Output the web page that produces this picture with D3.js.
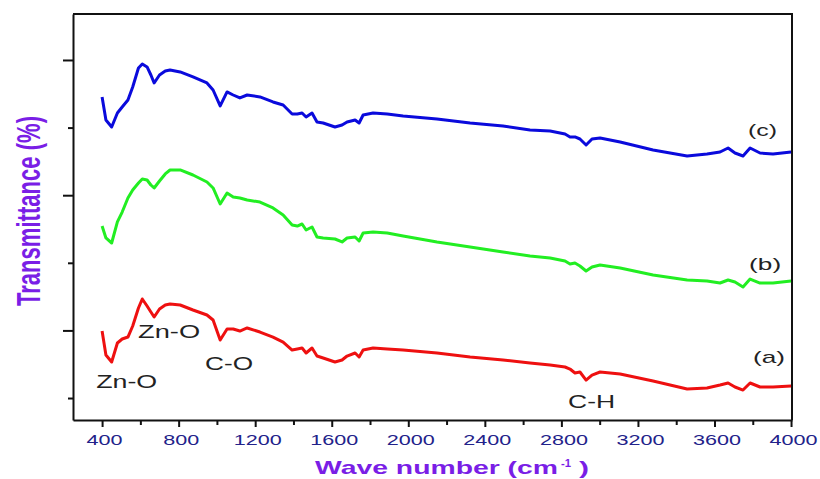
<!DOCTYPE html>
<html>
<head>
<meta charset="utf-8">
<script src="https://cdnjs.cloudflare.com/ajax/libs/d3/7.8.5/d3.min.js"></script>
<style>
  body { margin: 0; background: #fff; }
  svg text { font-family: "Liberation Sans", Arial, sans-serif; }
</style>
</head>
<body>
<div id="ftir"></div>
<script>
// wave numbers (cm-1)
var waveNumber = [400, 420, 450, 480, 505, 535, 560, 590, 610, 635,
  655, 672, 700, 730, 755, 808, 875, 948, 980, 1017,
  1053, 1085, 1120, 1158, 1225, 1293, 1346, 1393, 1420, 1445,
  1466, 1497, 1523, 1555, 1617, 1654, 1680, 1722, 1743, 1764,
  1816, 1890, 1973, 2150, 2323, 2495, 2636, 2741, 2819, 2845,
  2871, 2897, 2929, 2960, 3002, 3107, 3279, 3457, 3561, 3629,
  3671, 3707, 3749, 3786, 3838, 3906, 4000];

// transmittance (arbitrary, offset) for the three samples
var transA = [19.91, 16.36, 15.33, 18.14, 18.73, 19.02, 20.65, 23.31, 24.65, 23.61,
  22.72, 21.98, 23.17, 23.76, 23.91, 23.76, 23.02, 22.28, 21.54, 18.58,
  20.21, 20.21, 19.91, 20.36, 19.76, 19.02, 18.28, 17.10, 17.25, 17.40,
  16.66, 17.40, 16.21, 15.92, 15.33, 15.62, 16.21, 16.66, 16.07, 17.10,
  17.40, 17.25, 17.10, 16.66, 16.07, 15.62, 15.18, 14.88, 14.59, 14.29,
  13.70, 13.85, 12.66, 13.40, 13.85, 13.55, 12.51, 11.33, 11.48, 11.92,
  12.22, 11.63, 11.18, 12.22, 11.63, 11.63, 11.78];
var transB = [35.44, 33.67, 32.93, 36.04, 37.51, 39.59, 40.77, 41.80, 42.40, 42.25,
  41.51, 41.07, 42.10, 43.14, 43.73, 43.73, 42.99, 41.95, 41.07, 38.70,
  40.33, 39.73, 39.59, 39.29, 38.99, 38.11, 37.07, 35.59, 35.44, 35.74,
  34.85, 35.30, 33.82, 33.67, 33.52, 33.08, 33.67, 33.82, 33.23, 34.41,
  34.56, 34.41, 33.96, 33.08, 32.34, 31.60, 31.01, 30.71, 30.27, 29.82,
  29.97, 29.53, 28.79, 29.38, 29.67, 29.23, 28.20, 27.46, 27.31, 27.01,
  27.46, 27.16, 26.42, 27.60, 27.01, 27.01, 27.31];
var transC = [54.53, 51.12, 50.09, 52.16, 53.05, 54.08, 56.01, 58.82, 59.41, 58.97,
  57.78, 56.60, 57.78, 58.37, 58.52, 58.23, 57.49, 56.60, 55.56, 53.20,
  55.27, 54.82, 54.38, 54.82, 54.53, 53.79, 53.34, 52.01, 52.01, 52.16,
  51.57, 52.16, 50.83, 50.68, 50.09, 50.38, 50.83, 51.12, 50.68, 51.86,
  52.16, 52.01, 51.72, 51.27, 50.68, 50.24, 49.64, 49.50, 49.05, 48.61,
  48.61, 48.31, 47.43, 48.31, 48.46, 47.87, 46.69, 45.80, 46.10, 46.39,
  46.98, 46.24, 45.80, 46.98, 46.24, 46.10, 46.39];

var seriesNames = ["(a)", "(b)", "(c)"];
var xMajorTicks = [400, 800, 1200, 1600, 2000, 2400, 2800, 3200, 3600, 4000];
var xMinorTicks = [600, 1000, 1400, 1800, 2200, 2600, 3000, 3400, 3800];
var yMajorTicks = [20, 40, 60];
var yMinorTicks = [10, 30, 50];

// set the dimensions and margins of the graph
var margin = {top: 14, right: 28, bottom: 59, left: 73},
    width = 820 - margin.left - margin.right,
    height = 479 - margin.top - margin.bottom;

var svg = d3.select("#ftir")
  .append("svg")
    .attr("width", width + margin.left + margin.right)
    .attr("height", height + margin.top + margin.bottom)
  .append("g")
    .attr("transform", "translate(" + margin.left + "," + margin.top + ")");

var x = d3.scaleLinear().domain([248, 4005]).range([0, width]);
var y = d3.scaleLinear().domain([6.75, 66.8]).range([height, 0]);

// frame (top + right)
svg.append("path")
  .attr("d", "M0,0H" + width + "V" + height)
  .attr("fill", "none")
  .attr("stroke", "#111")
  .attr("stroke-width", 2);

// X axis, minor then major
svg.append("g")
  .attr("transform", "translate(0," + height + ")")
  .call(d3.axisBottom(x).tickValues(xMinorTicks).tickSize(5).tickFormat(""))
  .call(function(g) { g.select(".domain").remove(); })
  .selectAll("line").attr("stroke", "#111").attr("stroke-width", 2);

var xAxis = svg.append("g")
  .attr("transform", "translate(0," + height + ")")
  .call(d3.axisBottom(x).tickValues(xMajorTicks).tickSize(7).tickPadding(7)
    .tickSizeOuter(0).tickFormat(d3.format("d")));
xAxis.select(".domain").attr("stroke", "#111").attr("stroke-width", 2);
xAxis.selectAll("line").attr("stroke", "#111").attr("stroke-width", 2);
xAxis.selectAll("text")
  .attr("dx", 2)
  .attr("fill", "#22228a")
  .style("font-size", "15px")
  .attr("textLength", function(d) { return String(d).length * 12; })
  .attr("lengthAdjust", "spacingAndGlyphs");

// Y axis (no labels)
svg.append("g")
  .call(d3.axisLeft(y).tickValues(yMinorTicks).tickSize(5).tickFormat(""))
  .call(function(g) { g.select(".domain").remove(); })
  .selectAll("line").attr("stroke", "#111").attr("stroke-width", 2);

var yAxis = svg.append("g")
  .call(d3.axisLeft(y).tickValues(yMajorTicks).tickSize(10).tickFormat("").tickSizeOuter(0));
yAxis.select(".domain").attr("stroke", "#111").attr("stroke-width", 2);
yAxis.selectAll("line").attr("stroke", "#111").attr("stroke-width", 2);

// spectra
var series = [
  {name: seriesNames[0], values: transA, color: "#ee1010"},
  {name: seriesNames[1], values: transB, color: "#22ee22"},
  {name: seriesNames[2], values: transC, color: "#0a0adc"}
];

var line = d3.line()
  .x(function(d) { return x(d[0]); })
  .y(function(d) { return y(d[1]); });

svg.selectAll("myline")
  .data(series)
  .enter()
  .append("path")
    .attr("d", function(s) { return line(d3.zip(waveNumber, s.values)); })
    .attr("fill", "none")
    .attr("stroke", function(s) { return s.color; })
    .attr("stroke-width", 3)
    .attr("stroke-linejoin", "round");

// labels (a) (b) (c)
var labelPos = [[3801, 15.18, 32], [3781, 28.93, 32], [3775, 48.75, 29]];
svg.selectAll("mylabel")
  .data(series)
  .enter()
  .append("text")
    .attr("x", function(s, i) { return x(labelPos[i][0]); })
    .attr("y", function(s, i) { return y(labelPos[i][1]); })
    .attr("textLength", function(s, i) { return labelPos[i][2]; })
    .attr("lengthAdjust", "spacingAndGlyphs")
    .attr("fill", "#222")
    .style("font-size", "17px")
    .text(function(s) { return s.name; });

// band assignments
var bands = [
  {text: "Zn-O", wn: 369, t: 11.48, w: 61},
  {text: "Zn-O", wn: 588, t: 18.87, w: 62},
  {text: "C-O", wn: 938, t: 14.14, w: 48},
  {text: "C-H", wn: 2835, t: 8.52, w: 47}
];
svg.selectAll("myband")
  .data(bands)
  .enter()
  .append("text")
    .attr("x", function(d) { return x(d.wn); })
    .attr("y", function(d) { return y(d.t); })
    .attr("textLength", function(d) { return d.w; })
    .attr("lengthAdjust", "spacingAndGlyphs")
    .attr("fill", "#222")
    .style("font-size", "19px")
    .text(function(d) { return d.text; });

// X axis title
var purple = "#7a1ee6";
svg.append("text")
  .attr("x", 315 - margin.left)
  .attr("y", 474 - margin.top)
  .attr("textLength", 243)
  .attr("lengthAdjust", "spacingAndGlyphs")
  .attr("fill", purple)
  .attr("font-weight", "bold")
  .style("font-size", "19px")
  .text("Wave number (cm");
svg.append("text")
  .attr("x", 561 - margin.left)
  .attr("y", 467 - margin.top)
  .attr("textLength", 10)
  .attr("lengthAdjust", "spacingAndGlyphs")
  .attr("fill", purple)
  .attr("font-weight", "bold")
  .style("font-size", "11px")
  .text("-1");
svg.append("text")
  .attr("x", 579 - margin.left)
  .attr("y", 474 - margin.top)
  .attr("textLength", 10)
  .attr("lengthAdjust", "spacingAndGlyphs")
  .attr("fill", purple)
  .attr("font-weight", "bold")
  .style("font-size", "19px")
  .text(")");

// Y axis title
svg.append("text")
  .attr("transform", "translate(" + (40 - margin.left) + "," + (211 - margin.top) + ")rotate(-90)")
  .attr("text-anchor", "middle")
  .attr("textLength", 190)
  .attr("lengthAdjust", "spacingAndGlyphs")
  .attr("fill", purple)
  .attr("font-weight", "bold")
  .style("font-size", "34px")
  .text("Transmittance (%)");
</script>
</body>
</html>
